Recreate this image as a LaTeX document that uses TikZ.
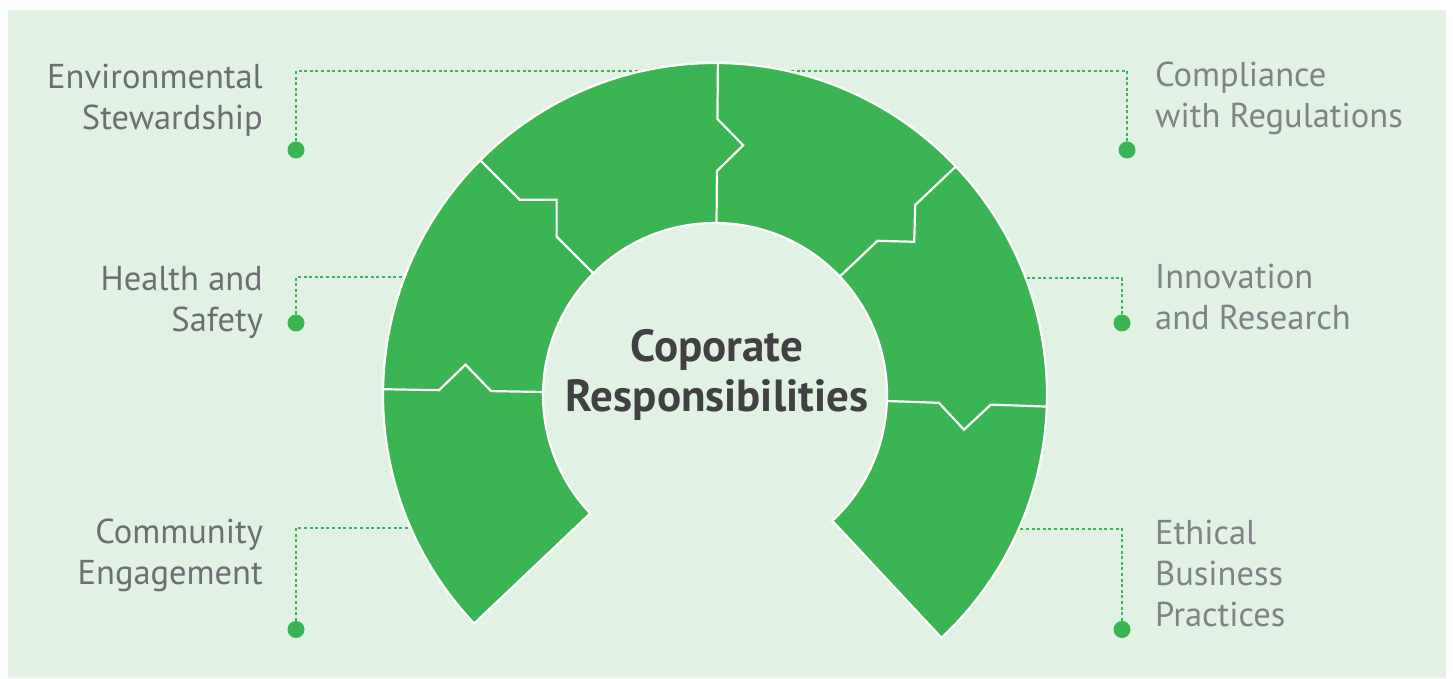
\documentclass[tikz,border=0pt]{standalone}
\usepackage{fontspec}
\setmainfont{PT Sans}
\definecolor{ringgreen}{HTML}{3BB554}
\definecolor{mint}{HTML}{E1F2E5}
\definecolor{leftgray}{HTML}{6D6E71}
\definecolor{rightgray}{HTML}{808285}
\definecolor{titlegray}{HTML}{414042}
\begin{document}
\begin{tikzpicture}[x=1pt,y=1pt,
    leader/.style={ringgreen, line width=2.8pt, dash pattern=on 3pt off 2.6pt},
    dot/.style={circle, fill=ringgreen, minimum size=17pt, inner sep=0pt},
    divider/.style={white, line width=2.2pt},
    lbl/.style={font=\fontsize{34.5}{41}\selectfont, inner sep=0pt}]
    \useasboundingbox (0,0) rectangle (1453,679);
    \fill[mint] (8,1) rectangle (1446,669);
    \coordinate (c) at (715,284);

    \node[dot] (envdot) at (296,529) {};
    \node[dot] (healthdot) at (296,356) {};
    \node[dot] (commdot) at (296,49.5) {};
    \node[dot] (compdot) at (1127,529) {};
    \node[dot] (innodot) at (1122,356) {};
    \node[dot] (ethicdot) at (1122,49.5) {};
    \coordinate (envend) at (675,608);
    \coordinate (healthend) at (425,402);
    \coordinate (commend) at (425,151);
    \coordinate (compend) at (755,608);
    \coordinate (innoend) at (1005,401);
    \coordinate (ethicend) at (1005,150);
    \draw[leader] (envdot) |- (envend);
    \draw[leader] (healthdot) |- (healthend);
    \draw[leader] (commdot) |- (commend);
    \draw[leader] (compdot) |- (compend);
    \draw[leader] (innodot) |- (innoend);
    \draw[leader] (ethicdot) |- (ethicend);

    \begin{scope}[shift={(c)}]
        \draw[fill=ringgreen, draw=white, line width=2.2pt] (223.5:332pt)
            arc[start angle=223.5, end angle=-47, radius=332pt] -- (-47:172pt)
            arc[start angle=-47, end angle=223.5, radius=172pt] -- cycle;
        \foreach \a in {179,135,89.5,43.5,-2}
            \draw[divider, rotate=\a] (172,0) -- (224,0) -- (250,-26) -- (276,0) -- (332,0);
    \end{scope}

    \node[font=\bfseries\fontsize{45}{50}\selectfont, text=titlegray, align=center] (title) at (717,304) {Coporate\\Responsibilities};

    \node[lbl, text=leftgray, align=right, anchor=base east] (env) at (263,549) {Environmental\\Stewardship};
    \node[lbl, text=leftgray, align=right, anchor=base east] (health) at (263,347) {Health and\\Safety};
    \node[lbl, text=leftgray, align=right, anchor=base east] (comm) at (263,94) {Community\\Engagement};
    \node[lbl, text=rightgray, align=left, anchor=base west] (comp) at (1155,551) {Compliance\\with Regulations};
    \node[lbl, text=rightgray, align=left, anchor=base west] (inno) at (1155,349) {Innovation\\and Research};
    \node[lbl, text=rightgray, align=left, anchor=base west] (ethic) at (1155,52) {Ethical\\Business\\Practices};
\end{tikzpicture}
\end{document}
